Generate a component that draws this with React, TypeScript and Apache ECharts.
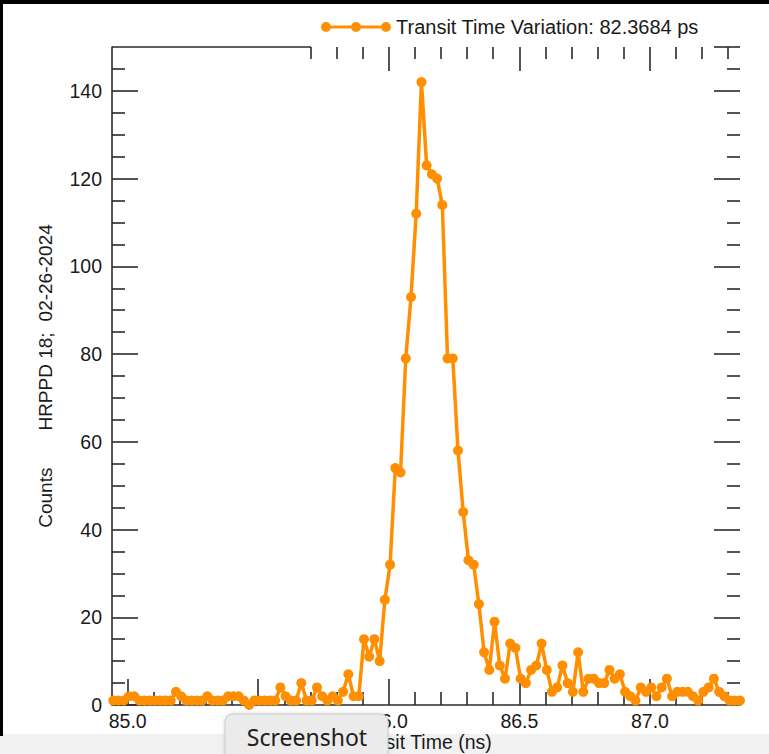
import React, { useEffect, useRef } from 'react';
import * as echarts from 'echarts';

// Histogram bins (ns) and counts
const BIN_START = 84.945;
const BIN_WIDTH = 0.02;
const COUNTS = [
  1, 1, 1, 2, 2, 1, 1, 1, 1, 1, 1,
  1, 3, 2, 1, 1, 1, 1, 2, 1, 1,
  1, 2, 2, 2, 1, 0, 1, 1, 1, 1,
  1, 4, 2, 1, 1, 5, 1, 1, 4, 2,
  1, 2, 1, 3, 7, 2, 2, 15, 11, 15,
  10, 24, 32, 54, 53, 79, 93, 112, 142, 123,
  121, 120, 114, 79, 79, 58, 44, 33, 32, 23,
  12, 8, 19, 9, 6, 14, 13, 6, 5, 8,
  9, 14, 8, 3, 4, 9, 5, 3, 12, 3,
  6, 6, 5, 5, 8, 6, 7, 3, 2, 1,
  4, 3, 4, 2, 4, 6, 2, 3, 3, 3,
  2, 1, 3, 4, 6, 3, 2, 1, 1, 1,
];

const SERIES_NAME = 'Transit Time Variation: 82.3684 ps';
const X_NAME = 'Transit Time (ns)';
const X_MIN = 84.94;
const X_MAX = 87.345;
const Y_MIN = 0;
const Y_MAX = 150;

const X_MAJOR = [85.0, 85.5, 86.0, 86.5, 87.0];
const X_MINOR = [
  85.1, 85.2, 85.3, 85.4, 85.6, 85.7, 85.8, 85.9,
  86.1, 86.2, 86.3, 86.4, 86.6, 86.7, 86.8, 86.9,
  87.1, 87.2, 87.3,
];
const X_TOP_MAJOR = [86.0, 86.5, 87.0];
const X_TOP_MINOR = [85.7, 85.8, 85.9, 86.1, 86.2, 86.3, 86.4, 86.6, 86.7, 86.8, 86.9, 87.1, 87.2, 87.3];
const Y_MAJOR = [0, 20, 40, 60, 80, 100, 120, 140];
const Y_RIGHT_MAJOR = [20, 40, 60, 80, 100, 120, 140, 150];
const Y_MINOR = [5, 10, 15, 25, 30, 35, 45, 50, 55, 65, 70, 75, 85, 90, 95, 105, 110, 115, 125, 130, 135, 145];

const FONT = "'Liberation Sans', Arial, Helvetica, sans-serif";
const AX = '#2a2a2a';
const TXT = '#1a1a1a';
const ORANGE = '#ff8f00';
const FS = 19.5;
const NAME_FS = 19;

const LEGEND_ICON =
  'path://M5,4.5 L65,4.5 L65,7.5 L5,7.5 Z ' +
  'M0,6 a5,5 0 1,1 10,0 a5,5 0 1,1 -10,0 Z ' +
  'M30,6 a5,5 0 1,1 10,0 a5,5 0 1,1 -10,0 Z ' +
  'M60,6 a5,5 0 1,1 10,0 a5,5 0 1,1 -10,0 Z';

function tickAxis(kind: 'x' | 'y', position: string, values: number[], length: number, withLine: boolean) {
  const isX = kind === 'x';
  return {
    type: 'value',
    position,
    min: isX ? X_MIN : Y_MIN,
    max: isX ? X_MAX : Y_MAX,
    axisLine: { show: withLine, onZero: false, lineStyle: { color: AX, width: 1.6 } },
    axisTick: { show: true, inside: true, length, customValues: values, lineStyle: { color: AX, width: 1.6 } },
    axisLabel: { show: false },
    splitLine: { show: false },
    minorTick: { show: false },
  };
}

export default function App() {
  const ref = useRef<HTMLDivElement>(null);

  useEffect(() => {
    const chart = echarts.init(ref.current!, null, { renderer: 'svg' });
    const data = COUNTS.map((c, i) => [+(BIN_START + i * BIN_WIDTH).toFixed(3), c]);

    const option: any = {
      animation: false,
      backgroundColor: '#ffffff',
      textStyle: { fontFamily: FONT, color: TXT },
      grid: {
        left: 112,
        top: 47,
        width: 628,
        height: 658,
        containLabel: false,
        outerBoundsMode: 'none',
      },
      legend: {
        show: true,
        data: [SERIES_NAME],
        left: 321,
        top: 17,
        padding: 0,
        icon: LEGEND_ICON,
        itemWidth: 70,
        itemHeight: 10,
        itemStyle: { color: ORANGE },
        textStyle: { fontSize: 20, color: TXT, fontFamily: FONT },
      },
      xAxis: [
        {
          ...tickAxis('x', 'bottom', X_MAJOR, 26, true),
          axisLabel: {
            show: true,
            customValues: X_MAJOR,
            formatter: (v: number) => v.toFixed(1),
            fontSize: FS,
            color: TXT,
            margin: 6,
          },
          name: X_NAME,
          nameLocation: 'middle',
          nameGap: 27,
          nameMoveOverlap: false,
          nameTextStyle: { fontSize: FS, color: TXT, padding: [0, 14, 0, 0] },
        },
        tickAxis('x', 'bottom', X_MINOR, 13, false),
        tickAxis('x', 'top', X_TOP_MAJOR, 24, false),
        tickAxis('x', 'top', X_TOP_MINOR, 12, false),
      ],
      yAxis: [
        {
          ...tickAxis('y', 'left', Y_MAJOR, 26, true),
          axisLabel: {
            show: true,
            customValues: Y_MAJOR,
            fontSize: FS,
            color: TXT,
            margin: 10,
          },
          name: '{a|Counts}{b|HRPPD 18;}{c|02-26-2024}',
          nameLocation: 'middle',
          nameGap: 57,
          nameMoveOverlap: false,
          nameTextStyle: {
            fontSize: NAME_FS,
            color: TXT,
            rich: {
              a: { fontSize: NAME_FS, color: TXT },
              b: { fontSize: NAME_FS, color: TXT, padding: [0, 0, 0, 37] },
              c: { fontSize: NAME_FS, color: TXT, padding: [0, 0, 0, 11] },
            },
          },
        },
        tickAxis('y', 'left', Y_MINOR, 13, false),
        tickAxis('y', 'right', Y_RIGHT_MAJOR, 26, false),
        tickAxis('y', 'right', Y_MINOR, 13, false),
      ],
      series: [
        {
          name: SERIES_NAME,
          type: 'line',
          xAxisIndex: 0,
          yAxisIndex: 0,
          data,
          symbol: 'circle',
          symbolSize: 10,
          showSymbol: true,
          clip: false,
          itemStyle: { color: ORANGE },
          lineStyle: { color: ORANGE, width: 3.5 },
          z: 3,
        },
      ],
      graphic: [
        { type: 'rect', z: -10, shape: { x: 0, y: 734, width: 769, height: 20 }, style: { fill: '#f1f1f1' } },
        { type: 'rect', z: 50, shape: { x: 0, y: 0, width: 769, height: 4 }, style: { fill: '#000' } },
        { type: 'rect', z: 50, shape: { x: 0, y: 0, width: 3, height: 736 }, style: { fill: '#000' } },
        {
          type: 'line',
          z: 5,
          shape: { x1: 112, y1: 47, x2: 311, y2: 47 },
          style: { stroke: AX, lineWidth: 1.6 },
        },
        {
          type: 'rect',
          z: 100,
          shape: { x: 225, y: 714, width: 163, height: 50, r: 8 },
          style: { fill: '#ebebeb', stroke: '#c9c9c9', lineWidth: 1, shadowBlur: 4, shadowColor: 'rgba(0,0,0,0.15)' },
        },
        {
          type: 'text',
          z: 101,
          x: 307,
          y: 737,
          style: {
            text: 'Screenshot',
            fontSize: 23,
            fontFamily: "'Noto Sans', 'DejaVu Sans', sans-serif",
            fill: '#202020',
            align: 'center',
            verticalAlign: 'middle',
          },
        },
      ],
    };

    chart.setOption(option);
    return () => chart.dispose();
  }, []);

  return (
    <div
      ref={ref}
      style={{ position: 'fixed', left: 0, top: 0, width: 769, height: 754, background: '#fff' }}
    />
  );
}
